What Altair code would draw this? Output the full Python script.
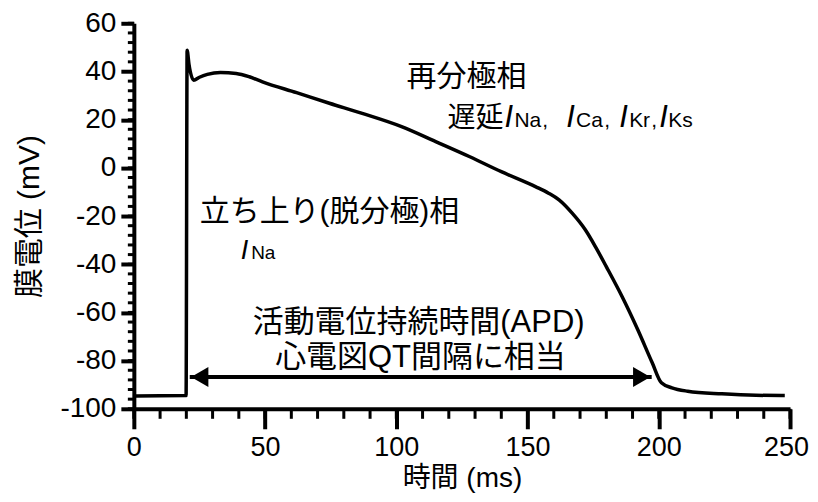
import altair as alt
import pandas as pd

# ---- data ----
time_ms = [0.8, 10, 19.9, 20.3, 21.0, 22.8, 25, 28, 33, 39, 44, 49, 62, 74.5, 87,
           102, 115, 128, 140, 153, 158, 162, 167, 172, 176, 180, 186, 192, 197.5,
           201, 205, 211, 224, 237, 248]
vm_mV = [-94.7, -94.6, -94.5, 48.8, 43.0, 36.4, 37.6, 38.8, 39.6, 39.2, 37.8, 35.7, 31.2,
         26.8, 22.6, 17.1, 10.9, 4.6, -1.6, -7.8, -10.5, -13.3, -18.8, -25.7, -33.0,
         -41.0, -53.4, -67.2, -80.9, -89.2, -91.3, -92.7, -93.8, -94.4, -94.5]

x_major = [0, 50, 100, 150, 200, 250]
y_major = [-100, -80, -60, -40, -20, 0, 20, 40, 60]
x_minor = list(range(0, 251, 10))
y_minor = list(range(-100, 61, 4))

# APD arrow (time span and level)
apd_start, apd_end, apd_level = 21.3, 197.3, -86.8

W, H = 657, 386
FONT = "Liberation Sans, Noto Sans CJK JP, sans-serif"
xs = alt.Scale(domain=[0, 250], nice=False, zero=False)
ys = alt.Scale(domain=[-100, 60], nice=False, zero=False)

X_AX = alt.Axis(
    values=x_major, title="時間 (ms)", grid=False, tickSize=20, tickWidth=4,
    domainWidth=4, domainColor="black", tickColor="black", labelColor="black",
    labelFontSize=27, labelFont=FONT, labelPadding=6, titleFont=FONT,
    titleFontSize=28, titleFontWeight="normal", titleColor="black", titlePadding=4,
    labelExpr="'' + datum.value", labelFlush=False,
    labelOffset={"condition": {"test": "datum.value === 250", "value": -4}, "value": 0})
Y_AX = alt.Axis(
    values=y_major, title="膜電位 (mV)", grid=False, tickSize=13, tickWidth=4,
    domainWidth=4, domainColor="black", tickColor="black", labelColor="black",
    labelFontSize=28, labelFont=FONT, labelPadding=5, titleFont=FONT,
    titleFontSize=30, titleFontWeight="normal", titleColor="black", titlePadding=15,
    labelExpr="'' + datum.value", labelFlush=False)


def X(f):
    return alt.X(f, scale=xs, axis=X_AX)


def Y(f):
    return alt.Y(f, scale=ys, axis=Y_AX)


df = pd.DataFrame({"t": time_ms, "v": vm_mV})

curve = alt.Chart(df).mark_line(color="black", strokeWidth=3.5, interpolate="monotone").encode(
    x=X("t:Q"), y=Y("v:Q"))

xminor = alt.Chart(pd.DataFrame({"t": x_minor})).mark_rule(color="black", strokeWidth=3).encode(
    x=X("t:Q"), y=alt.value(H), y2=alt.value(H + 10))
yminor = alt.Chart(pd.DataFrame({"v": y_minor})).mark_rule(color="black", strokeWidth=3).encode(
    y=Y("v:Q"), x=alt.value(-6), x2=alt.value(0))

# arrow
arr_df = pd.DataFrame({"t": [apd_start], "t2": [apd_end], "v": [apd_level]})
arrow_line = alt.Chart(arr_df).mark_rule(color="black", strokeWidth=4).encode(
    x=X("t:Q"), x2="t2:Q", y=Y("v:Q"))
head_l = alt.Chart(arr_df).mark_point(shape="triangle-left", filled=True, color="black",
                                      size=400, opacity=1, xOffset=10).encode(
    x=X("t:Q"), y=Y("v:Q"))
head_r = alt.Chart(arr_df).mark_point(shape="triangle-right", filled=True, color="black",
                                      size=400, opacity=1, xOffset=-10).encode(
    x=X("t2:Q"), y=Y("v:Q"))


# annotations (positions in data units)
def text_layer(rows, size, style="normal", align="left", baseline="alphabetic"):
    d = pd.DataFrame(rows, columns=["label", "t", "v"])
    return alt.Chart(d).mark_text(font=FONT, fontSize=size, fontStyle=style, align=align,
                                  baseline=baseline, color="black").encode(
        x=X("t:Q"), y=Y("v:Q"), text="label:N")


BL = 16.8  # baseline of the "遅延 I..." line
cjk_mid = text_layer([["再分極相", 103.9, 37.7],
                      ["立ち上り(脱分極)相", 25.1, -18.3]], 30, baseline="middle")
cjk_base = text_layer([["遅延", 119.5, BL]], 28)
big_I = text_layer([["I", 141.2, BL], ["I", 164.7, BL], ["I", 184.9, BL],
                    ["I", 200.2, BL]], 31, style="italic")
subs = text_layer([["Na", 145.0, BL], [",", 155.6, BL], ["Ca", 168.5, BL],
                   [",", 179.2, BL], ["Kr", 188.7, BL], [",", 197.1, BL],
                   ["Ks", 203.6, BL]], 21)
low_I = text_layer([["I", 40.7, -37.9]], 27, style="italic")
low_sub = text_layer([["Na", 44.7, -37.9]], 19)
apd_txt = text_layer([["活動電位持続時間(APD)", 108.5, -64.5],
                      ["心電図QT間隔に相当", 109.2, -79.0]], 31, align="center",
                     baseline="middle")

chart = alt.layer(curve, xminor, yminor, arrow_line, head_l, head_r, cjk_mid, cjk_base,
                  big_I, subs, low_I, low_sub, apd_txt).properties(
    width=W, height=H, autosize="none",
    padding={"left": 126, "top": 15, "right": 20, "bottom": 85},
    background="white",
).configure_view(stroke=None)

chart.save("out.html", embed_options={"renderer": "svg", "actions": False})
